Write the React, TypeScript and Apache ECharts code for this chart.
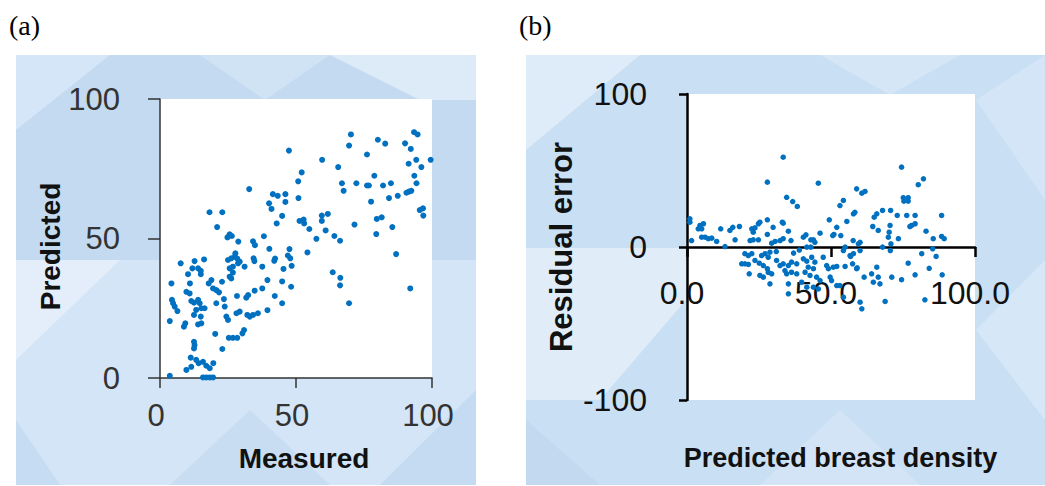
import React, { useEffect, useRef } from "react";
import * as echarts from "echarts";

// ---------- Panel (a): Measured vs Predicted ----------
const measuredTicks = [0, 50, 100];
const predictedTicks = [0, 50, 100];
const panelAPoints: [number, number][] = [
  [70.2, 87.3], [69.5, 83.3], [80.1, 85.4], [82.8, 84.0], [90.1, 84.1], [92.2, 82.1], [93.4, 88.1], [94.7, 87.3],
  [47.4, 81.5], [59.6, 78.2], [76.1, 80.1], [99.5, 78.2], [94.2, 78.2], [91.4, 76.8], [96.1, 75.6], [65.5, 75.6],
  [52.1, 73.7], [50.8, 70.5], [32.8, 67.7], [66.9, 69.8], [67.5, 67.1], [72.2, 69.8], [76.1, 69.0], [76.8, 69.0],
  [78.8, 72.5], [82.0, 69.0], [84.9, 69.8], [93.5, 72.5], [94.3, 69.8], [90.6, 66.4], [91.5, 66.8], [92.4, 67.1],
  [87.4, 65.3], [84.2, 64.5], [77.6, 63.2], [95.5, 60.2], [96.7, 60.8], [96.8, 58.2], [79.7, 57.0], [81.5, 57.6],
  [79.5, 51.6], [85.4, 54.1], [71.5, 55.0], [86.8, 44.4], [92.0, 32.1], [69.5, 26.8], [63.5, 37.9], [66.3, 35.9],
  [66.2, 33.2], [57.5, 49.9], [60.9, 52.9], [64.1, 50.9], [66.2, 49.2], [59.5, 58.2], [61.7, 58.8], [59.5, 56.3],
  [51.3, 56.3], [52.8, 56.8], [53.0, 55.4], [54.9, 53.4], [54.2, 45.0], [50.9, 64.5],
  [41.5, 65.9], [43.3, 65.3], [46.1, 65.9], [40.1, 62.6], [41.0, 60.6], [46.1, 63.1], [44.9, 58.1], [42.9, 55.4],
  [38.2, 50.8], [34.2, 49.0], [34.9, 47.6], [40.2, 46.3], [47.6, 46.2], [47.0, 43.9], [47.9, 42.9], [48.4, 40.2],
  [42.3, 42.8], [42.0, 42.0], [45.4, 39.1], [34.4, 42.9], [37.6, 39.9], [34.7, 41.9],
  [18.2, 59.4], [22.9, 59.4], [21.0, 54.1], [25.6, 51.5], [24.8, 50.4], [26.4, 50.9], [28.8, 48.9],
  [25.0, 42.3], [26.2, 42.9], [27.5, 43.5], [28.7, 41.1], [26.8, 39.9], [25.6, 39.3], [31.1, 39.9], [29.3, 41.7],
  [27.7, 44.7], [28.4, 42.8],
  [7.6, 41.1], [12.7, 41.9], [16.2, 42.5], [11.9, 39.3], [14.0, 39.3], [15.0, 38.4], [15.0, 37.2], [10.3, 37.2],
  [25.6, 36.3], [26.2, 35.7], [22.8, 34.5], [26.8, 37.8],
  [18.9, 35.1], [17.9, 33.9], [19.5, 32.1], [20.7, 31.5], [21.7, 30.7],
  [4.2, 33.9], [11.0, 33.9], [9.7, 30.9], [10.9, 30.3],
  [28.3, 29.4], [31.7, 28.8], [32.4, 29.7], [34.8, 31.3], [37.6, 32.1], [42.2, 29.4], [44.9, 26.8], [39.5, 35.1],
  [44.9, 34.6], [48.2, 32.7], [39.5, 24.3],
  [4.4, 28.0], [4.8, 26.8], [5.4, 25.6], [6.4, 24.0],
  [11.5, 27.6], [12.5, 27.0], [14.0, 28.0], [14.6, 26.8], [15.2, 25.0], [16.4, 25.0], [13.3, 24.4], [12.5, 22.6],
  [20.7, 26.8], [23.5, 28.3], [23.8, 25.6],
  [15.0, 22.0], [15.2, 19.6], [14.0, 19.2], [9.3, 19.6], [8.8, 18.4], [3.6, 20.4],
  [24.4, 22.0], [25.0, 20.8], [28.1, 23.2], [29.3, 23.8], [32.1, 22.6], [33.0, 22.0], [34.2, 22.6], [36.0, 23.2],
  [30.9, 17.2], [30.3, 16.0], [25.3, 14.4], [26.8, 14.4], [28.4, 14.4], [20.3, 15.8],
  [12.5, 13.0], [12.7, 11.8], [12.5, 10.6], [22.9, 10.4],
  [11.3, 7.3], [13.3, 6.5], [14.2, 5.3], [15.8, 5.8], [17.0, 4.4], [18.3, 3.5], [19.6, 5.3], [9.7, 2.9], [11.5, 4.0],
  [3.6, 0.8], [15.8, 0.2], [17.0, 0.2], [18.3, 0.2], [19.5, 0.2],
];

// ---------- Panel (b): Residual error vs Predicted breast density ----------
const densityTicks = [0, 50, 100];
const residualTicks = [-100, 0, 100];
const panelBPoints: [number, number][] = [
  [33.4, 58.7], [74.5, 52.2], [27.9, 42.4], [45.6, 41.7], [82.1, 44.6], [80.3, 40.7], [58.9, 38.0], [60.7, 35.2],
  [61.8, 36.3], [34.6, 32.5], [36.7, 29.7], [38.3, 26.5], [75.1, 32.2], [76.8, 32.2], [75.3, 30.0], [76.8, 30.0],
  [54.3, 30.4], [53.1, 27.1], [58.3, 22.7], [57.8, 21.7], [67.9, 23.9], [65.9, 21.7], [65.0, 19.5], [70.7, 23.9],
  [73.0, 20.6], [76.3, 20.6], [79.2, 20.6], [88.4, 20.6],
  [1.0, 18.4], [1.0, 16.2], [33.4, 15.6], [27.9, 17.8], [49.4, 17.8], [55.5, 16.7], [52.0, 12.9], [51.0, 8.2],
  [64.5, 13.4], [70.5, 14.1], [70.2, 9.7], [69.9, 6.4], [78.0, 14.1], [77.4, 13.4], [79.2, 15.2], [83.0, 10.3],
  [85.5, 5.4], [88.4, 6.9], [89.3, 5.4], [73.4, 5.4], [46.2, 9.0], [50.6, 7.5], [53.4, 7.5], [66.4, 10.8],
  [4.5, 14.1], [5.1, 11.9], [5.7, 15.2], [3.9, 11.9], [5.1, 6.4], [6.3, 6.4], [7.4, 5.4], [1.6, 4.2], [8.6, 5.8],
  [10.3, 3.6], [11.7, 11.9], [13.2, 0.3], [14.9, 10.8], [15.9, 12.9], [16.7, 4.7], [18.2, 13.4], [22.5, 11.9],
  [23.0, 9.7], [23.6, 12.5], [24.8, 15.2], [25.3, 16.2], [21.9, 4.2], [23.0, 4.7], [24.8, 4.7], [27.9, 8.2],
  [29.4, 2.5], [30.6, 3.6], [32.3, 4.2], [33.4, 5.4], [35.2, 10.3], [36.1, 4.2], [29.9, 12.9], [33.1, 16.2],
  [40.4, 6.4], [41.3, 8.0], [43.0, 4.7], [43.9, 4.7], [44.4, 3.1], [41.6, -0.1], [43.0, -0.1], [57.7, 4.2],
  [60.1, 3.1], [54.9, -0.1], [67.9, -0.1], [85.3, -1.2], [70.8, 2.1], [59.5, 2.1],
  [20.1, -4.4], [21.3, -5.6], [22.5, -4.4], [19.0, -11.0], [20.1, -11.0], [21.3, -11.4], [21.6, -17.5],
  [23.6, -8.8], [25.1, -10.6], [26.5, -12.1], [27.9, -14.2], [25.9, -5.6], [27.1, -4.4], [28.8, -3.4], [28.2, -6.7],
  [25.3, -18.6], [26.5, -19.7], [28.8, -24.1], [28.2, -16.5], [29.4, -17.5],
  [31.1, -8.8], [32.3, -12.1], [34.0, -15.4], [35.2, -12.1], [33.4, -11.0], [36.3, -9.9], [38.1, -11.0],
  [34.6, -17.5], [36.3, -16.5], [38.1, -17.5], [35.2, -24.1], [35.2, -30.6],
  [40.4, -7.7], [41.6, -9.3], [43.3, -6.7], [44.4, -9.9], [42.1, -13.2], [43.9, -14.2], [41.0, -16.5],
  [42.7, -18.6], [45.0, -19.7], [46.2, -21.9], [41.6, -26.3], [43.9, -26.3], [45.6, -27.4], [39.8, -23.0],
  [47.3, -6.7], [48.5, -12.1], [49.1, -14.2], [50.8, -13.2], [52.0, -12.7], [49.7, -19.7], [50.2, -21.9],
  [54.9, -12.7], [56.6, -5.6], [57.8, -4.4], [58.9, -14.2], [52.0, -25.2], [53.1, -25.2], [54.3, -32.8],
  [60.1, -36.1], [60.7, -40.4], [61.5, -19.7], [64.1, -17.5], [64.7, -23.0], [65.9, -13.2], [66.4, -19.7],
  [67.0, -24.1], [68.8, -35.6], [71.1, -19.7], [74.5, -21.4], [76.8, -10.6], [79.2, -18.2], [81.5, -4.4],
  [84.1, -13.9], [86.5, -6.2], [88.6, -18.2], [82.6, -34.5], [54.3, -2.3], [60.1, -2.3], [70.6, -2.3],
  [56.8, -6.2], [57.5, -11.0], [59.1, -13.6], [31.0, -3.0], [37.0, -4.0], [39.0, -2.0],
];

const POINT_COLOR = "#0070c0";
const FONT = "'Liberation Sans', Arial, sans-serif";
const SERIF = "'Liberation Serif', 'Times New Roman', serif";

const GRID_B = { left: 687, top: 94, width: 288, height: 306 };
// distance of the y = 0 line above the bottom of grid (b), so the x-axis crosses there
const zeroOffsetB = -GRID_B.height * (0 - residualTicks[0]) / (residualTicks[2] - residualTicks[0]);

function bgPoly(points: number[][], fill: string) {
  return { type: "polygon", z: -10, silent: true, shape: { points }, style: { fill } };
}
function bgRect(x: number, y: number, width: number, height: number, fill: string) {
  return { type: "rect", z: -10, silent: true, shape: { x, y, width, height }, style: { fill } };
}

const backgrounds = [
  // panel (a)
  bgRect(16, 55, 460, 430, "#d3e5f6"),
  bgRect(16, 55, 460, 205, "#c3daf1"),
  bgPoly([[16, 55], [110, 55], [16, 130]], "#d4e6f7"),
  bgPoly([[200, 55], [330, 55], [265, 100]], "#d0e3f5"),
  bgPoly([[330, 55], [476, 55], [476, 100], [420, 100]], "#ddebf8"),
  bgPoly([[16, 260], [120, 260], [16, 360]], "#e3eefa"),
  bgPoly([[180, 260], [330, 260], [255, 330]], "#deebf8"),
  bgPoly([[16, 420], [60, 485], [16, 485]], "#c6dcf2"),
  bgPoly([[170, 485], [250, 410], [330, 485]], "#c8ddf2"),
  bgPoly([[380, 485], [476, 390], [476, 485]], "#c4dbf1"),
  // panel (b)
  bgRect(526, 55, 519, 430, "#c9dff4"),
  bgPoly([[526, 55], [640, 55], [526, 150]], "#deebf8"),
  bgPoly([[526, 248], [686, 248], [686, 300], [600, 400], [526, 400]], "#e0edf9"),
  bgPoly([[820, 55], [960, 55], [890, 95]], "#d5e6f6"),
  bgPoly([[976, 100], [1045, 55], [1045, 200]], "#d3e5f6"),
  bgPoly([[526, 420], [600, 485], [526, 485]], "#c2d9f0"),
  bgPoly([[760, 485], [840, 410], [920, 485]], "#d2e4f6"),
  bgPoly([[976, 330], [1045, 260], [1045, 420]], "#d6e7f7"),
];

const panelLabels = [
  { type: "text", left: 9, top: 11, style: { text: "(a)", fontSize: 28, fontFamily: SERIF, fill: "#000" } },
  { type: "text", left: 519, top: 11, style: { text: "(b)", fontSize: 28, fontFamily: SERIF, fill: "#000" } },
];

export default function App() {
  const ref = useRef<HTMLDivElement>(null);
  useEffect(() => {
    if (!ref.current) return;
    const chart = echarts.init(ref.current, null, { renderer: "svg" });
    const option = {
      animation: false,
      backgroundColor: "#ffffff",
      graphic: [...backgrounds, ...panelLabels],
      grid: [
        { left: 160, top: 99, width: 272, height: 279, show: true, backgroundColor: "#ffffff", borderWidth: 0, outerBoundsMode: "none", containLabel: false },
        { ...GRID_B, show: true, backgroundColor: "#ffffff", borderWidth: 0, outerBoundsMode: "none", containLabel: false },
      ],
      xAxis: [
        {
          gridIndex: 0, type: "value",
          min: measuredTicks[0], max: measuredTicks[measuredTicks.length - 1], interval: measuredTicks[1] - measuredTicks[0],
          axisLine: { show: true, onZero: false, lineStyle: { color: "#333", width: 1.5 } },
          axisTick: { show: true, length: 10, lineStyle: { color: "#333", width: 1.5 } },
          splitLine: { show: false },
          axisLabel: { fontSize: 31, color: "#333", margin: 22, fontFamily: FONT, padding: [0, 8, 0, 0] },
          name: "Measured", nameLocation: "middle", nameGap: 66,
          nameTextStyle: { fontSize: 28, fontWeight: "bold", color: "#111", fontFamily: FONT, padding: [0, 0, 0, 16] },
        },
        {
          gridIndex: 1, type: "value", position: "bottom", offset: zeroOffsetB,
          min: densityTicks[0], max: densityTicks[densityTicks.length - 1], interval: densityTicks[1] - densityTicks[0],
          axisLine: { show: true, onZero: false, lineStyle: { color: "#000", width: 2.5 } },
          axisTick: { show: true, length: 10, lineStyle: { color: "#000", width: 2.5 } },
          splitLine: { show: false },
          axisLabel: { fontSize: 32, color: "#111", margin: 30, fontFamily: FONT, padding: [0, 10, 0, 0], formatter: (v: number) => v.toFixed(1) },
          name: "Predicted breast density", nameLocation: "middle", nameGap: 197,
          nameTextStyle: { fontSize: 27, fontWeight: "bold", color: "#111", fontFamily: FONT, padding: [0, 0, 0, 19] },
        },
      ],
      yAxis: [
        {
          gridIndex: 0, type: "value",
          min: predictedTicks[0], max: predictedTicks[predictedTicks.length - 1], interval: predictedTicks[1] - predictedTicks[0],
          axisLine: { show: true, onZero: false, lineStyle: { color: "#333", width: 1.5 } },
          axisTick: { show: true, length: 12, lineStyle: { color: "#333", width: 1.5 } },
          splitLine: { show: false },
          axisLabel: { fontSize: 31, color: "#333", margin: 40, fontFamily: FONT },
          name: "Predicted", nameLocation: "middle", nameGap: 96,
          nameTextStyle: { fontSize: 28, fontWeight: "bold", color: "#111", fontFamily: FONT, padding: [0, 16, 0, 0] },
        },
        {
          gridIndex: 1, type: "value",
          min: residualTicks[0], max: residualTicks[residualTicks.length - 1], interval: residualTicks[1] - residualTicks[0],
          axisLine: { show: true, onZero: false, lineStyle: { color: "#000", width: 2.5 } },
          axisTick: { show: true, length: 8, lineStyle: { color: "#000", width: 2.5 } },
          splitLine: { show: false },
          axisLabel: { fontSize: 32, color: "#111", margin: 40, fontFamily: FONT },
          name: "Residual error", nameLocation: "middle", nameGap: 110,
          nameTextStyle: { fontSize: 31, fontWeight: "bold", color: "#111", fontFamily: FONT },
        },
      ],
      series: [
        { type: "scatter", xAxisIndex: 0, yAxisIndex: 0, data: panelAPoints, symbolSize: 6, itemStyle: { color: POINT_COLOR, opacity: 1 } },
        { type: "scatter", xAxisIndex: 1, yAxisIndex: 1, data: panelBPoints, symbolSize: 5.5, itemStyle: { color: POINT_COLOR, opacity: 1 } },
      ],
    };
    chart.setOption(option as any);
    return () => chart.dispose();
  }, []);
  return (
    <div
      ref={ref}
      style={{ position: "absolute", left: 0, top: 0, width: 1045, height: 486 }}
    />
  );
}
